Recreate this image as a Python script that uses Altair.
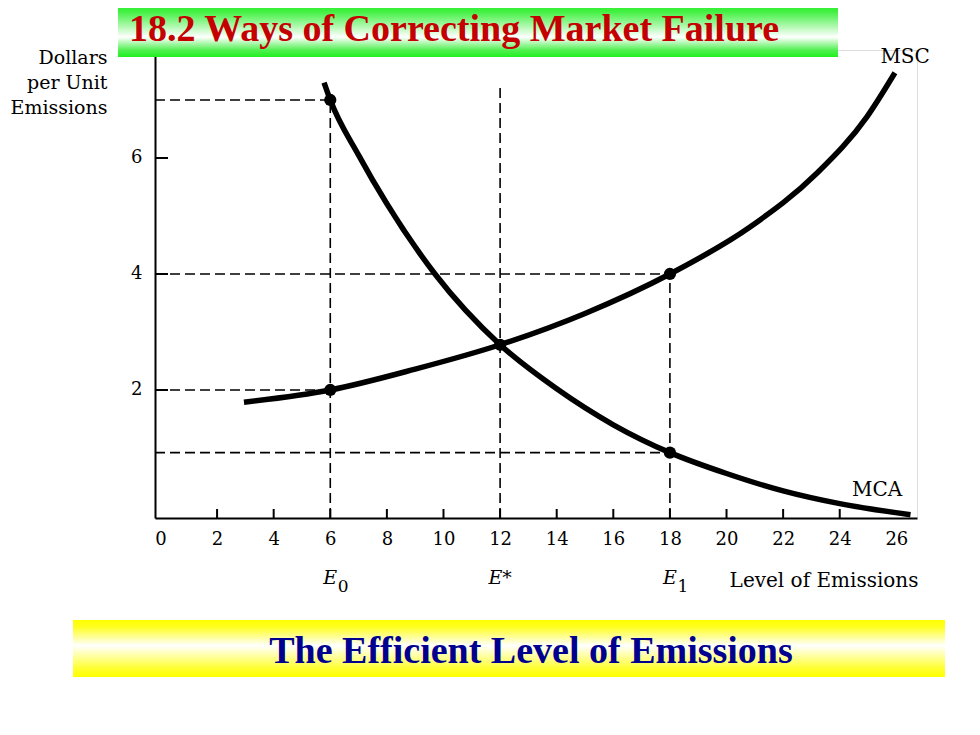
import altair as alt
import pandas as pd

# ---------------- data ----------------
mca_x = [5.78, 6.0, 7.0, 8.0, 9.7, 12.0, 14.0, 16.0, 18.0, 20.0, 22.0, 24.0, 26.5]
mca_y = [7.30, 7.0, 6.05, 5.21, 4.0, 2.78, 2.02, 1.40, 0.92, 0.56, 0.26, 0.04, -0.15]
msc_x = [2.95, 6.0, 9.0, 12.0, 15.0, 18.0, 20.83, 23.2, 24.96, 25.95]
msc_y = [1.79, 2.0, 2.36, 2.78, 3.32, 4.0, 4.81, 5.74, 6.71, 7.47]

point_x = [6, 6, 12, 18, 18]
point_y = [7, 2, 2.78, 4, 0.92]

x_ticks = [2, 4, 6, 8, 10, 12, 14, 16, 18, 20, 22, 24]
x_labels = list(range(0, 27, 2))
y_ticks = [2, 4, 6]

X_DOMAIN = [-0.193, 26.73]
Y_DOMAIN = [-0.207, 7.862]
X0, Y0 = X_DOMAIN[0], Y_DOMAIN[0]

seg_x = [X0, 6, X0, X0, 18, 12, X0]
seg_x2 = [6, 6, 6, 18, 18, 12, 18]
seg_y = [7, Y0, 2, 4, Y0, Y0, 0.92]
seg_y2 = [7, 7, 2, 4, 4, 7.21, 0.92]

curve_names = ["MSC", "MCA"]
curve_label_x = [26.31, 25.32]
curve_label_y = [7.74, 0.28]

e_x = [6, 12, 18]
e_main = ["E", "E*", "E"]
e_sub = ["0", "", "1"]

W, H = 762, 468
SERIF = "DejaVu Serif"

# ---------------- frames ----------------
curves = pd.DataFrame(
    {"curve": ["MCA"] * len(mca_x) + ["MSC"] * len(msc_x),
     "x": mca_x + msc_x, "y": mca_y + msc_y,
     "order": list(range(len(mca_x))) + list(range(len(msc_x)))})
pts = pd.DataFrame({"x": point_x, "y": point_y})
segs = pd.DataFrame({"x": seg_x, "x2": seg_x2, "y": seg_y, "y2": seg_y2})
xt = pd.DataFrame({"x": x_ticks})
yt = pd.DataFrame({"y": y_ticks})
clabels = pd.DataFrame({"x": curve_label_x, "y": curve_label_y, "t": curve_names})
elabels = pd.DataFrame({"x": e_x, "t": e_main, "s": e_sub})
one = pd.DataFrame({"a": [0]})

xscale = alt.Scale(domain=X_DOMAIN, nice=False, zero=False)
yscale = alt.Scale(domain=Y_DOMAIN, nice=False, zero=False)

xaxis = alt.Axis(values=x_labels, tickSize=0, labelPadding=12, domainColor="black",
                 domainWidth=2, grid=False, labelFont=SERIF, labelFontSize=18,
                 labelColor="black", labelFlush=False, labelOverlap=False,
                 title="Level of Emissions", titleFont=SERIF, titleFontSize=20,
                 titleFontWeight="normal", titleColor="black", titleX=763, titleY=68,
                 titleAlign="right", titleBaseline="alphabetic", titleAnchor="start")
yaxis = alt.Axis(values=y_ticks, tickSize=0, labelPadding=13, domainColor="black",
                 domainWidth=2, grid=False, labelFont=SERIF, labelFontSize=18,
                 labelColor="black", labelFlush=False, labelOverlap=False,
                 title=["Dollars", "per Unit", "Emissions"], titleFont=SERIF,
                 titleFontSize=19, titleFontWeight="normal", titleColor="black",
                 titleAngle=0, titleAlign="right", titleBaseline="alphabetic",
                 titleX=-48, titleY=13, titleLineHeight=25, titleAnchor="start")

XE = alt.X("x:Q", scale=xscale, axis=xaxis)
YE = alt.Y("y:Q", scale=yscale, axis=yaxis)

dashed = alt.Chart(segs).mark_rule(color="black", strokeWidth=1.6, strokeDash=[10, 5]).encode(
    x=XE, x2="x2:Q", y=YE, y2="y2:Q")

xtick = alt.Chart(xt).mark_rule(color="black", strokeWidth=2).encode(
    x=XE, y=alt.value(H), y2=alt.value(H - 9))
ytick = alt.Chart(yt).mark_rule(color="black", strokeWidth=2).encode(
    y=YE, x=alt.value(0), x2=alt.value(13))

lines = alt.Chart(curves).mark_line(color="black", strokeWidth=5.5, interpolate="monotone",
                                    strokeCap="butt").encode(
    x=XE, y=YE, detail="curve:N", order="order:Q")

dots = alt.Chart(pts).mark_circle(color="black", size=150, opacity=1).encode(x=XE, y=YE)

ctext = alt.Chart(clabels).mark_text(font=SERIF, fontSize=20, color="black").encode(
    x=XE, y=YE, text="t:N")

etext = alt.Chart(elabels).mark_text(font=SERIF, fontSize=19, fontStyle="italic",
                                     color="black", baseline="alphabetic").encode(
    x=XE, y=alt.value(534), text="t:N")
esub = alt.Chart(elabels).mark_text(font=SERIF, fontSize=17, color="black",
                                    baseline="alphabetic", dx=13, dy=8).encode(
    x=XE, y=alt.value(534), text="s:N")

green = alt.LinearGradient(gradient="linear", x1=0, x2=0, y1=0, y2=1, stops=[
    alt.GradientStop(offset=0, color="#1ef01e"),
    alt.GradientStop(offset=0.2, color="#40f040"),
    alt.GradientStop(offset=0.65, color="#ffffff"),
    alt.GradientStop(offset=0.88, color="#50f050"),
    alt.GradientStop(offset=1, color="#1ef01e")])
yellow = alt.LinearGradient(gradient="linear", x1=0, x2=0, y1=0, y2=1, stops=[
    alt.GradientStop(offset=0, color="#ffff00"),
    alt.GradientStop(offset=0.12, color="#ffff20"),
    alt.GradientStop(offset=0.45, color="#ffffff"),
    alt.GradientStop(offset=0.85, color="#ffff30"),
    alt.GradientStop(offset=1, color="#ffff00")])

top_band = alt.Chart(one).mark_rect(color=green).encode(
    x=alt.value(-37), x2=alt.value(683), y=alt.value(-50), y2=alt.value(7))
top_text = alt.Chart(one).mark_text(
    text="18.2 Ways of Correcting Market Failure", font="Liberation Serif",
    fontWeight="bold", fontSize=38, color="#c40000", align="center",
    baseline="alphabetic").encode(x=alt.value(299), y=alt.value(-9))
bot_band = alt.Chart(one).mark_rect(color=yellow).encode(
    x=alt.value(-82), x2=alt.value(790), y=alt.value(570), y2=alt.value(627))
bot_text = alt.Chart(one).mark_text(
    text="The Efficient Level of Emissions", font="Liberation Serif",
    fontWeight="bold", fontSize=38, color="#000090", align="center",
    baseline="alphabetic").encode(x=alt.value(376), y=alt.value(613))

chart = alt.layer(
    dashed, xtick, ytick, lines, dots, ctext, etext, esub,
    top_band, top_text, bot_band, bot_text
).properties(
    width=W, height=H,
    padding={"left": 147, "top": 42, "right": 52, "bottom": 180},
    autosize=alt.AutoSizeParams(type="none"),
).configure_view(stroke=None).configure(background="white")

chart.save("out.html", embed_options={"renderer": "svg", "actions": False})
